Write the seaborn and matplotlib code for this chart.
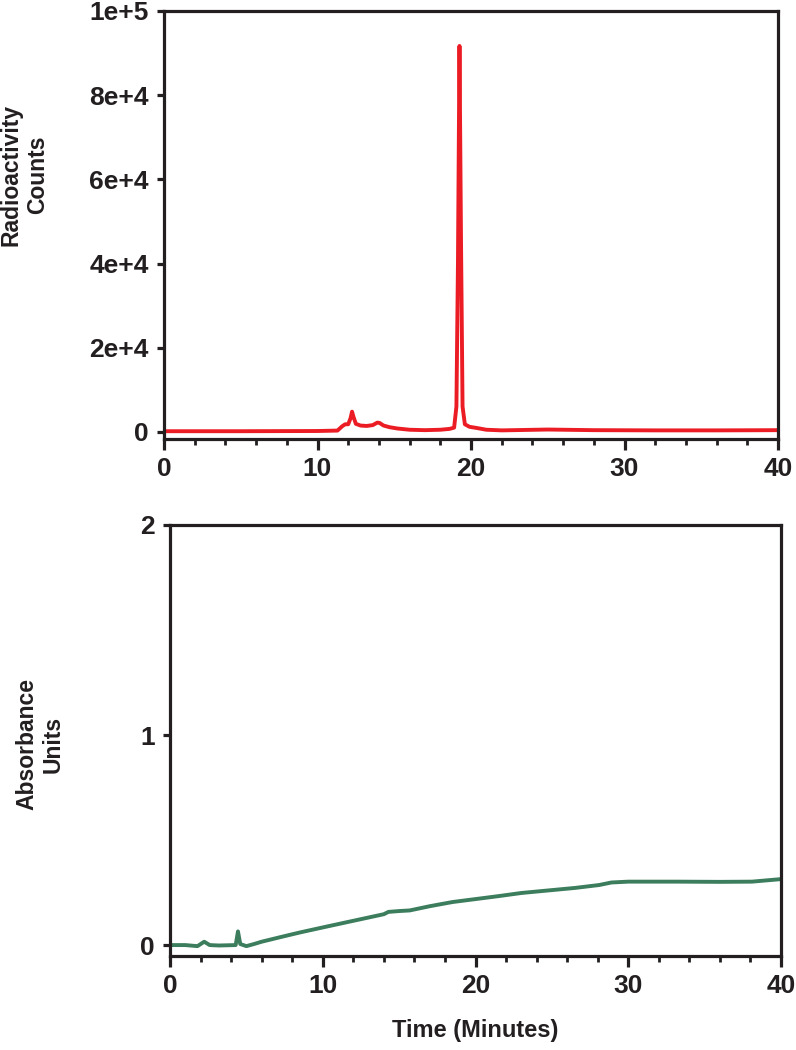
import matplotlib
matplotlib.use("Agg")
import matplotlib.pyplot as plt
import seaborn as sns
import pandas as pd
from matplotlib.ticker import MultipleLocator

# ---- data ----
rad_time = [0, 5, 10, 11.3, 11.6, 11.8, 12.0, 12.15, 12.25, 12.35, 12.5, 12.8, 13.2, 13.6,
            13.9, 14.05, 14.3, 14.7, 15.2, 16.0, 17.0, 18.0, 18.6, 18.9, 19.05, 19.15, 19.25,
            19.35, 19.45, 19.6, 19.9, 20.4, 21.0, 22, 25, 28, 32, 36, 40]
rad_counts = [150, 150, 200, 300, 1300, 1800, 1800, 3200, 4800, 3500, 1900, 1500, 1400, 1600,
              2200, 2100, 1500, 1100, 800, 500, 400, 500, 700, 1000, 6000, 40000, 91700,
              45000, 6000, 1800, 1200, 900, 500, 350, 550, 400, 350, 350, 400]

abs_time = [0, 1, 1.8, 2.24, 2.6, 3.2, 4.3, 4.45, 4.6, 5.0, 5.5, 6.0, 7.35, 8.5, 10.0, 11.9,
            14.0, 14.3, 15.0, 15.7, 17.0, 18.5, 20.0, 21.5, 23.0, 24.6, 26.5, 28.1, 28.9,
            30.0, 33.2, 36, 38.1, 40]
abs_units = [0.0, 0.0, -0.005, 0.016, 0.0, -0.002, 0.0, 0.065, 0.005, -0.005, 0.005, 0.016,
             0.04, 0.06, 0.084, 0.114, 0.147, 0.158, 0.162, 0.165, 0.185, 0.205, 0.219, 0.233,
             0.248, 0.259, 0.272, 0.286, 0.298, 0.302, 0.302, 0.301, 0.302, 0.314]

x_ticks = [0, 10, 20, 30, 40]
x_labels = ["0", "10", "20", "30", "40"]
rad_yticks = [0, 20000, 40000, 60000, 80000, 100000]
rad_ylabels = ["0", "2e+4", "4e+4", "6e+4", "8e+4", "1e+5"]
abs_yticks = [0, 1, 2]
abs_ylabels = ["0", "1", "2"]

RED = "#ec1c24"
GREEN = "#3b7d5c"

sns.set_style("ticks")
plt.rcParams['font.family'] = ['Liberation Sans', 'DejaVu Sans']
plt.rcParams['font.weight'] = 'bold'

fig = plt.figure(figsize=(7.96, 10.5), dpi=100)
ax1 = fig.add_axes([164/796, 1-439/1050, (778-164)/796, 428/1050])
ax2 = fig.add_axes([170/796, 1-956/1050, (781-170)/796, 431/1050])

df1 = pd.DataFrame({"t": rad_time, "c": rad_counts})
df2 = pd.DataFrame({"t": abs_time, "a": abs_units})
sns.lineplot(data=df1, x="t", y="c", ax=ax1, color=RED, linewidth=2.8, sort=False)
sns.lineplot(data=df2, x="t", y="a", ax=ax2, color=GREEN, linewidth=2.8, sort=False)

ax1.set_ylim(-1700, 100000)
ax2.set_ylim(-0.052, 2.0)

for ax, yt, yl in [(ax1, rad_yticks, rad_ylabels), (ax2, abs_yticks, abs_ylabels)]:
    ax.set_xlim(0, 40)
    ax.set_xticks(x_ticks)
    ax.set_xticklabels(x_labels)
    ax.xaxis.set_minor_locator(MultipleLocator(2))
    ax.set_yticks(yt)
    ax.set_yticklabels(yl)
    ax.set_xlabel("")
    ax.set_ylabel("")
    for s in ax.spines.values():
        s.set_visible(True)
        s.set_linewidth(2.3)
        s.set_color("#231f20")
    ax.tick_params(axis="x", which="major", direction="out", length=8, width=2.3,
                   color="#231f20", labelsize=19, pad=5)
    ax.tick_params(axis="x", which="minor", direction="out", length=4, width=2.0,
                   color="#231f20")
    ax.tick_params(axis="y", which="major", direction="out", length=5, width=2.3,
                   color="#231f20", labelsize=19, pad=6)
    for lab in ax.get_xticklabels() + ax.get_yticklabels():
        lab.set_fontweight("bold")
        lab.set_color("#231f20")

fig.text(24/796, 1-175/1050, "Radioactivity\nCounts", rotation=90, ha="center", va="center",
         multialignment="center", fontsize=16.5, fontweight="bold", color="#231f20")
fig.text(40/796, 1-744/1050, "Absorbance\nUnits", rotation=90, ha="center", va="center",
         multialignment="center", fontsize=16.5, fontweight="bold", color="#231f20")
fig.text(475/796, 1-1030/1050, "Time (Minutes)", ha="center", va="center",
         fontsize=17, fontweight="bold", color="#231f20")

fig.savefig("out.png", dpi=100)
